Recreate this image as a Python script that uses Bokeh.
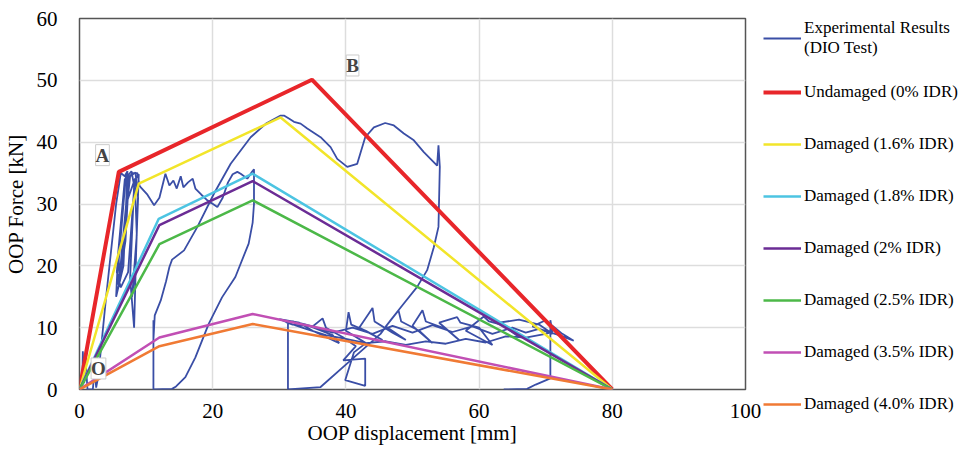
from bokeh.plotting import figure
from bokeh.models import Legend, LegendItem, Label, Range1d, FixedTicker
from bokeh.embed import file_html
from bokeh.resources import INLINE

# ---------------- data ----------------
x_ticks = [0, 20, 40, 60, 80, 100]
y_ticks = [0, 10, 20, 30, 40, 50, 60]

exp_label = "Experimental Results\n(DIO Test)"
exp_x = [0, 0.4, 0.5, 0.7, 0.9, 1.2, 2.0, 2.3, 2.5, 2.8,
         4.0, 5.5, 6.2, 6.8, 7.2, 6.6, 5.5, 5.8, 6.8, 7.8, 8.2, 7.6, 8.2, 8.5, 8.9, 8.3, 7.3, 6.2,
         5.6, 6.4, 7.0, 7.4, 6.9, 6.1, 5.7, 6.3, 7.6, 8.4, 8.8, 8.4, 7.9, 8.6, 8.3, 7.0, 6.0,
         5.9, 6.9, 8.0, 8.7, 9.0,
         9.2, 10.2, 11.2, 12.0, 12.9, 13.5, 14.1, 14.6, 15.2, 15.6, 16.3, 17.0, 17.4, 18.3, 19.2,
         20.7, 21.5, 22.3, 23.0, 23.7, 24.2, 25.2, 25.9, 26.2,
         26.2, 26.0, 25.4, 23.4, 21.4, 19.4, 17.4, 15.9, 14.5, 13.9, 11.1, 11.1, 11.1, 11.3,
         12.2, 13.0, 13.5, 13.9, 15.7, 17.7, 20.2, 22.7, 25.7, 28.0, 30.2, 30.7,
         31.5, 32.2, 33.2, 34.2, 36.2, 37.7, 38.7, 40.2, 41.7, 42.9, 44.2, 45.9, 47.2, 48.7,
         50.2, 51.7, 53.7, 53.9, 54.1, 53.9, 53.2, 52.2, 50.7, 48.7, 46.7, 45.2, 40.5, 36.2,
         31.3, 31.3,
         30.0, 33.0, 35.0, 37.0, 39.0, 38.0, 34.0, 32.0, 35.0, 36.5, 37.0, 39.5, 41.5, 39.6,
         42.9, 42.9, 39.9, 41.2, 43.0, 40.0, 40.4, 40.8, 43.0, 45.5, 42.0, 44.0, 44.3, 47.0,
         49.0, 46.0, 47.9, 48.3, 51.0, 53.0, 50.0, 51.5, 52.0, 55.0, 57.0, 54.0, 56.7, 57.2,
         60.0, 62.0, 58.0, 60.7, 61.5, 64.0, 66.0, 63.0, 66.0, 69.0, 71.0, 68.0, 70.0, 72.5,
         74.2,
         72.0, 69.0, 67.0, 65.0, 62.0, 59.0, 56.0, 53.0, 50.0, 47.0, 44.0, 41.0, 38.0, 35.0,
         32.0, 31.0, 34.0, 37.0, 40.0, 43.0, 46.0, 49.0, 52.0, 55.0, 58.0, 61.0, 64.0, 67.0,
         70.0,
         71.0, 70.7, 70.7, 68.5, 67.2, 63.7]
exp_y = [0, 0, 6.2, 1.0, 5.0, 0, 0, 3.5, 0.3, 2.0,
         15.0, 30.0, 35.0, 34.5, 35.3, 20.0, 15.0, 22.0, 34.0, 35.3, 33.0, 18.0, 10.0, 22.0, 34.8, 34.0, 19.0, 16.5,
         19.0, 28.0, 35.0, 34.0, 24.0, 18.5, 17.0, 21.0, 34.5, 35.1, 31.0, 20.0, 15.0, 25.0, 34.0, 30.0, 18.0,
         21.0, 33.8, 35.0, 35.0, 33.0,
         32.7, 31.5, 29.8, 31.0, 34.9, 33.0, 33.8, 32.5, 34.5, 32.7, 33.5, 34.1, 32.5, 31.5, 30.6,
         29.5, 31.0, 33.5, 34.8, 35.2, 34.9, 34.1, 35.2, 35.6,
         30.0, 27.0, 23.6, 18.2, 14.9, 10.6, 5.2, 2.0, 0.5, 0.1, 0, 11.2, 8.0, 12.0,
         14.4, 17.5, 19.8, 21.0, 22.5, 26.3, 31.7, 36.5, 40.8, 43.0, 44.3, 44.3,
         43.8, 43.3, 43.0, 42.2, 40.8, 39.2, 37.3, 36.0, 36.5, 40.8, 42.4, 43.1, 42.7, 41.4,
         40.3, 38.4, 36.2, 39.5, 36.0, 26.3, 23.0, 19.3, 16.6, 13.9, 11.2, 9.0, 4.5, 0.4,
         0, 10.8,
         11.4, 10.8, 9.5, 8.5, 7.5, 8.8, 10.5, 11.0, 10.2, 11.5, 10.0, 8.5, 7.0, 4.7,
         5.0, 0.6, 1.5, 6.0, 7.5, 9.5, 12.5, 10.5, 9.5, 8.0, 10.0, 13.2, 11.0, 9.2,
         8.0, 10.2, 12.8, 11.0, 9.5, 7.5, 10.3, 12.8, 11.0, 9.8, 8.0, 10.8, 11.7, 10.8,
         10.0, 7.2, 9.5, 11.8, 11.0, 10.3, 8.5, 10.8, 11.3, 10.5, 9.0, 10.2, 11.2, 9.0,
         7.9,
         8.8, 9.8, 9.2, 10.0, 9.0, 10.2, 9.3, 10.4, 9.2, 10.3, 9.0, 10.0, 9.2, 10.2,
         10.5, 10.9, 9.8, 8.8, 8.2, 7.5, 7.8, 7.2, 7.8, 7.4, 8.2, 7.6, 8.6, 8.4,
         9.0,
         9.3, 11.2, 1.8, 0.8, 0.1, 0]

model_labels = ["Undamaged (0% IDR)", "Damaged (1.6% IDR)", "Damaged (1.8% IDR)",
                "Damaged (2% IDR)", "Damaged (2.5% IDR)", "Damaged (3.5% IDR)",
                "Damaged (4.0% IDR)"]
undamaged_x = [0, 5.9, 34.9, 80]
undamaged_y = [0, 35.2, 50.1, 0]
idr16_x = [0, 8.9, 30.2, 80]
idr16_y = [0, 33.3, 44.0, 0]
idr18_x = [0, 11.9, 26.0, 80]
idr18_y = [0, 27.6, 34.9, 0]
idr20_x = [0, 12.0, 26.0, 80]
idr20_y = [0, 26.6, 33.7, 0]
idr25_x = [0, 12.0, 26.0, 80]
idr25_y = [0, 23.5, 30.6, 0]
idr35_x = [0, 12.0, 26.0, 80]
idr35_y = [0, 8.4, 12.2, 0]
idr40_x = [0, 12.0, 26.0, 80]
idr40_y = [0, 7.0, 10.6, 0]

point_labels = ["A", "B", "O"]
point_x = [3.45, 41.0, 2.85]
point_y = [37.9, 52.4, 3.4]

# ---------------- styles ----------------
serif = "Liberation Serif"
model_x = [undamaged_x, idr16_x, idr18_x, idr20_x, idr25_x, idr35_x, idr40_x]
model_y = [undamaged_y, idr16_y, idr18_y, idr20_y, idr25_y, idr35_y, idr40_y]
model_colors = ["#e8262a", "#f2e52a", "#4cc4e2", "#6b2c95", "#4cb848", "#c14fb4", "#f07a34"]
model_widths = [4, 2.5, 2.5, 2.5, 2.5, 2.5, 2.5]
exp_color = "#3a4ea6"

p = figure(frame_width=666, frame_height=371, x_range=Range1d(0, 100), y_range=Range1d(0, 60),
           output_backend="svg", toolbar_location=None,
           min_border_left=79, min_border_right=0, min_border_top=18, min_border_bottom=63)
p.outline_line_color = "#555555"
p.outline_line_width = 1.5
p.background_fill_color = "white"
p.border_fill_color = "white"

for ax in (p.xaxis[0], p.yaxis[0]):
    ax.major_label_text_font = serif
    ax.major_label_text_font_size = "21px"
    ax.major_label_text_color = "black"
    ax.axis_label_text_font = serif
    ax.axis_label_text_font_size = "21px"
    ax.axis_label_text_font_style = "normal"
    ax.axis_label_text_color = "black"
    ax.axis_line_color = None
    ax.major_tick_line_color = None
    ax.minor_tick_line_color = None

p.xaxis.ticker = FixedTicker(ticks=x_ticks)
p.yaxis.ticker = FixedTicker(ticks=y_ticks)
p.xaxis.axis_label = "OOP displacement [mm]"
p.yaxis.axis_label = "OOP Force [kN]"
p.xaxis.major_label_standoff = 8
p.yaxis.major_label_standoff = 16
p.xaxis.axis_label_standoff = 0
p.yaxis.axis_label_standoff = 6
p.grid.grid_line_color = "#dddddd"
p.grid.grid_line_width = 1.5

exp_r = p.line(exp_x, exp_y, line_color=exp_color, line_width=1.8)

items = [LegendItem(label=exp_label, renderers=[exp_r])]
for lbl, xs, ys, c, w in zip(model_labels, model_x, model_y, model_colors, model_widths):
    r = p.line(xs, ys, line_color=c, line_width=w)
    items.append(LegendItem(label=lbl, renderers=[r]))

for t, x, y in zip(point_labels, point_x, point_y):
    p.add_layout(Label(x=x, y=y, text=t, text_font=serif, text_font_size="19px",
                       text_font_style="bold", text_align="center", text_baseline="middle",
                       background_fill_color="white", border_line_color="#cccccc",
                       border_line_width=1))

legend = Legend(items=items, location=(18, -33))
legend.border_line_color = None
legend.background_fill_alpha = 0
legend.label_text_font = serif
legend.label_text_font_size = "17px"
legend.label_text_color = "black"
legend.glyph_width = 38
legend.label_height = 36
legend.label_standoff = 3
legend.spacing = 16
legend.padding = 0
legend.margin = 0
p.add_layout(legend, "right")

open("out.html", "w").write(file_html(p, INLINE))
